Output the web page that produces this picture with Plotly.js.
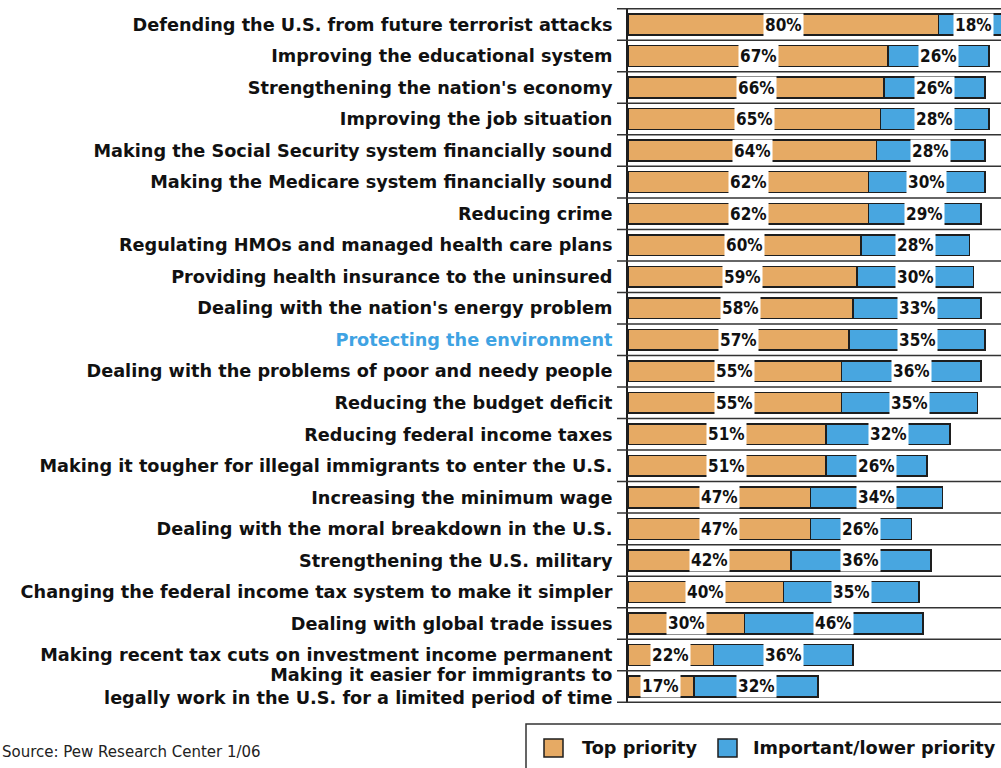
<!DOCTYPE html>
<html>
<head>
<meta charset="utf-8">
<script src="https://cdn.plot.ly/plotly-3.0.1.min.js"></script>
<style>
  html, body { margin: 0; padding: 0; background: #fff; }
  #chart { width: 1001px; height: 768px; }
</style>
</head>
<body>
<div id="chart"></div>
<script>
const categories = [
  "Defending the U.S. from future terrorist attacks",
  "Improving the educational system",
  "Strengthening the nation's economy",
  "Improving the job situation",
  "Making the Social Security system financially sound",
  "Making the Medicare system financially sound",
  "Reducing crime",
  "Regulating HMOs and managed health care plans",
  "Providing health insurance to the uninsured",
  "Dealing with the nation's energy problem",
  "Protecting the environment",
  "Dealing with the problems of poor and needy people",
  "Reducing the budget deficit",
  "Reducing federal income taxes",
  "Making it tougher for illegal immigrants to enter the U.S.",
  "Increasing the minimum wage",
  "Dealing with the moral breakdown in the U.S.",
  "Strengthening the U.S. military",
  "Changing the federal income tax system to make it simpler",
  "Dealing with global trade issues",
  "Making recent tax cuts on investment income permanent",
  "Making it easier for immigrants to<br>legally work in the U.S. for a limited period of time"
];
const topPriority   = [80, 67, 66, 65, 64, 62, 62, 60, 59, 58, 57, 55, 55, 51, 51, 47, 47, 42, 40, 30, 22, 17];
const lowerPriority = [18, 26, 26, 28, 28, 30, 29, 28, 30, 33, 35, 36, 35, 32, 26, 34, 26, 36, 35, 46, 36, 32];
const seriesNames = ["Top priority", "Important/lower priority"];
const highlighted = "Protecting the environment";
const sourceText = "Source: Pew Research Center 1/06";

const ORANGE = "#E6AA64";
const BLUE = "#48A6E0";
const EDGE = "#1e1e1e";
const LABEL_FONT = "DejaVu Sans, Verdana, sans-serif";
const PCT_FONT = "DejaVu Sans Condensed, DejaVu Sans, sans-serif";

// geometry (pixels)
const W = 1001, H = 768;
const M = {l: 628, r: 0, t: 8, b: 65};
const plotW = W - M.l - M.r, plotH = H - M.t - M.b;
const px2x = px => (px - M.l) / plotW;
const px2y = py => (H - M.b - py) / plotH;

const traces = [
  {type: "bar", orientation: "h", name: seriesNames[0], y: categories, x: topPriority,
   width: 0.66, marker: {color: ORANGE, line: {color: EDGE, width: 1.5}}, hoverinfo: "x+y", showlegend: false},
  {type: "bar", orientation: "h", name: seriesNames[1], y: categories, x: lowerPriority,
   width: 0.66, marker: {color: BLUE, line: {color: EDGE, width: 1.5}}, hoverinfo: "x+y", showlegend: false}
];

const annotations = [];
categories.forEach((c, i) => {
  annotations.push({x: topPriority[i] / 2, y: c, xref: "x", yref: "y", text: "<b>" + topPriority[i] + "%</b>",
    showarrow: false, bgcolor: "#fff", borderpad: 1, font: {family: PCT_FONT, size: 17, color: "#111"}});
  annotations.push({x: topPriority[i] + lowerPriority[i] / 2, y: c, xref: "x", yref: "y", text: "<b>" + lowerPriority[i] + "%</b>",
    showarrow: false, bgcolor: "#fff", borderpad: 1, font: {family: PCT_FONT, size: 17, color: "#111"}});
});

// legend (drawn)
annotations.push({xref: "paper", yref: "paper", x: px2x(580), y: px2y(748), xanchor: "left", yanchor: "middle",
  text: "<b>" + seriesNames[0] + "</b>", showarrow: false, font: {family: LABEL_FONT, size: 17.7, color: "#111"}});
annotations.push({xref: "paper", yref: "paper", x: px2x(751), y: px2y(748), xanchor: "left", yanchor: "middle",
  text: "<b>" + seriesNames[1] + "</b>", showarrow: false, font: {family: LABEL_FONT, size: 17.7, color: "#111"}});
annotations.push({xref: "paper", yref: "paper", x: px2x(0), y: px2y(752), xanchor: "left", yanchor: "middle",
  text: sourceText, showarrow: false, font: {family: LABEL_FONT, size: 15, color: "#222"}});

const shapes = [];
for (let i = 0; i <= categories.length; i++) {
  shapes.push({type: "line", xref: "paper", yref: "y", x0: px2x(617), x1: 1.05, y0: i - 0.5, y1: i - 0.5,
    line: {color: "#333", width: 1.5}, layer: "above"});
}
shapes.push({type: "rect", xref: "paper", yref: "paper", x0: px2x(526), x1: px2x(1010), y0: px2y(724), y1: px2y(780),
  line: {color: "#333", width: 1.5}, fillcolor: "rgba(0,0,0,0)"});
shapes.push({type: "rect", xref: "paper", yref: "paper", x0: px2x(544), x1: px2x(563), y0: px2y(739), y1: px2y(757),
  line: {color: EDGE, width: 1.5}, fillcolor: ORANGE});
shapes.push({type: "rect", xref: "paper", yref: "paper", x0: px2x(718), x1: px2x(737), y0: px2y(739), y1: px2y(757),
  line: {color: EDGE, width: 1.5}, fillcolor: BLUE});

const tickText = categories.map(c => c === highlighted
  ? '<b><span style="color:#3FA3E3">' + c + '</span></b>'
  : '<b>' + c.split("<br>").join("</b><br><b>") + '</b>');

const layout = {
  width: W, height: H,
  margin: M,
  paper_bgcolor: "#fff", plot_bgcolor: "#fff",
  barmode: "stack",
  bargap: 0.34,
  showlegend: false,
  xaxis: {range: [0, 96.1], showgrid: false, zeroline: false, showline: false, showticklabels: false, ticks: "", fixedrange: true},
  yaxis: {type: "category", autorange: "reversed", showgrid: false, zeroline: false,
    showline: true, linecolor: "#1e1e1e", linewidth: 2, ticks: "",
    tickmode: "array", tickvals: categories, ticktext: tickText, ticklabelstandoff: 10,
    tickfont: {family: LABEL_FONT, size: 17.7, color: "#111"}, fixedrange: true},
  annotations: annotations,
  shapes: shapes
};

Plotly.newPlot("chart", traces, layout, {displayModeBar: false, staticPlot: true});
</script>
</body>
</html>
